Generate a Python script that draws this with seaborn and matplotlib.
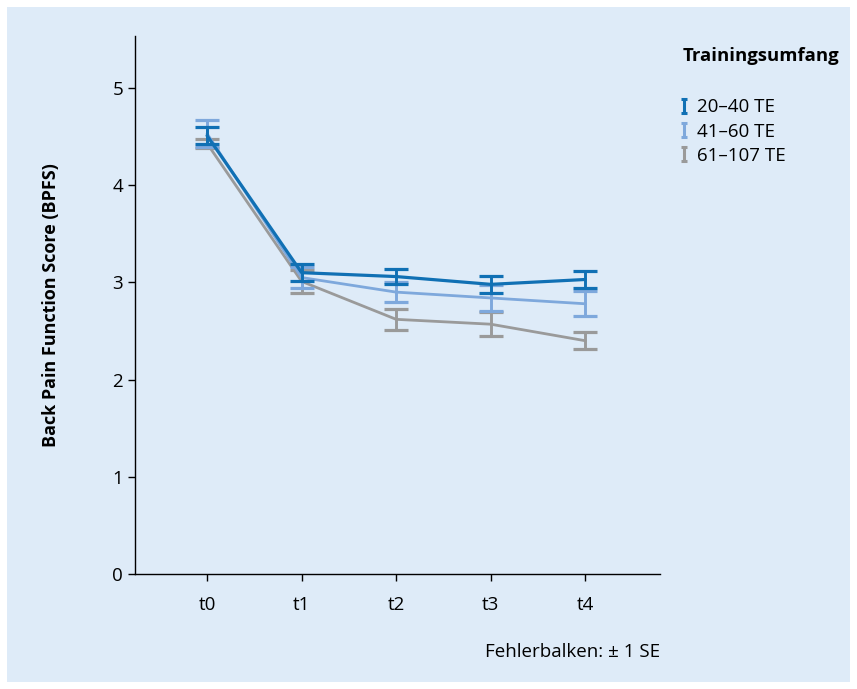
import numpy as np
import pandas as pd
import matplotlib
matplotlib.use("Agg")
import matplotlib.pyplot as plt
from matplotlib.path import Path
from matplotlib.lines import Line2D
from matplotlib.patches import Rectangle
import seaborn as sns

# Daten (Mittelwerte und Standardfehler)
zeitpunkte = ["t0", "t1", "t2", "t3", "t4"]
gruppen = ["20–40 TE", "41–60 TE", "61–107 TE"]
mittel_20_40 = [4.51, 3.10, 3.06, 2.98, 3.03]
se_20_40 = [0.09, 0.09, 0.08, 0.09, 0.085]
mittel_41_60 = [4.53, 3.05, 2.90, 2.84, 2.78]
se_41_60 = [0.14, 0.11, 0.10, 0.13, 0.13]
mittel_61_107 = [4.43, 3.01, 2.62, 2.57, 2.40]
se_61_107 = [0.05, 0.12, 0.105, 0.125, 0.09]

farben = ["#1070b4", "#7ea8dc", "#9a9a9a"]
BG = "#deebf8"

df = pd.DataFrame({
    "zeit": zeitpunkte * 3,
    "x": list(range(len(zeitpunkte))) * 3,
    "mittel": mittel_20_40 + mittel_41_60 + mittel_61_107,
    "se": se_20_40 + se_41_60 + se_61_107,
    "gruppe": [g for g in gruppen for _ in zeitpunkte],
})

sns.set_style("white")
plt.rcParams["font.family"] = ["Open Sans", "DejaVu Sans"]
plt.rcParams["text.color"] = "black"

fig = plt.figure(figsize=(8.57, 6.89), dpi=100, facecolor="white")
fig.patches.append(Rectangle((7 / 857, 7 / 689), 843 / 857, 675 / 689,
                             transform=fig.transFigure, facecolor=BG,
                             edgecolor="none", zorder=-10))
ax = fig.add_axes([135 / 857, 1 - 574 / 689, 525 / 857, 538 / 689])
ax.set_facecolor(BG)
ax.set_zorder(1)

# Reihenfolge: grau unten, dunkelblau oben
for gruppe, farbe, lw in reversed(list(zip(gruppen, farben, [2.3, 2.0, 2.0]))):
    sub = df[df["gruppe"] == gruppe]
    sns.lineplot(data=sub, x="x", y="mittel", color=farbe, linewidth=lw,
                 ax=ax, legend=False, errorbar=None)
    ax.errorbar(sub["x"], sub["mittel"], yerr=sub["se"], fmt="none",
                ecolor=farbe, elinewidth=2.1, capsize=8.5, capthick=2.3)

ax.set_xlim(-0.762, 4.79)
ax.set_ylim(0, 5.535)
ax.set_xticks(range(len(zeitpunkte)))
ax.set_xticklabels(zeitpunkte)
ax.set_yticks(range(6))
ax.set_xlabel("")
ax.set_ylabel("Back Pain Function Score (BPFS)", fontsize=13, fontweight="bold",
              labelpad=38, color="black")
sns.despine(ax=ax)
for s in ["left", "bottom"]:
    ax.spines[s].set_color("black")
    ax.spines[s].set_linewidth(1.0)
ax.tick_params(axis="both", direction="out", length=5, width=1.0,
               colors="black", labelsize=13.5, left=True, bottom=True)
ax.tick_params(axis="x", pad=11)

# Legende mit I-Symbol
ibeam = Path([(-0.5, 1), (0.5, 1), (0, 1), (0, -1), (-0.5, -1), (0.5, -1)],
             [Path.MOVETO, Path.LINETO, Path.MOVETO, Path.LINETO,
              Path.MOVETO, Path.LINETO])
handles = [Line2D([], [], linestyle="none", marker=ibeam, markersize=10,
                  markeredgewidth=2.2, color=f) for f in farben]
fig.legend(handles, gruppen, loc="upper left",
           bbox_to_anchor=(671 / 857, 1 - 91 / 689), frameon=False,
           fontsize=13.5, handlelength=0.6, handletextpad=0.4,
           labelspacing=0.33, borderaxespad=0)
fig.text(683 / 857, 1 - 56 / 689, "Trainingsumfang", fontsize=13.3,
         fontweight="bold", ha="left", va="center")
fig.text(660 / 857, 1 - 652 / 689, "Fehlerbalken: ± 1 SE", fontsize=13.5,
         ha="right", va="center")

fig.savefig("out.png", dpi=100, facecolor="white")
